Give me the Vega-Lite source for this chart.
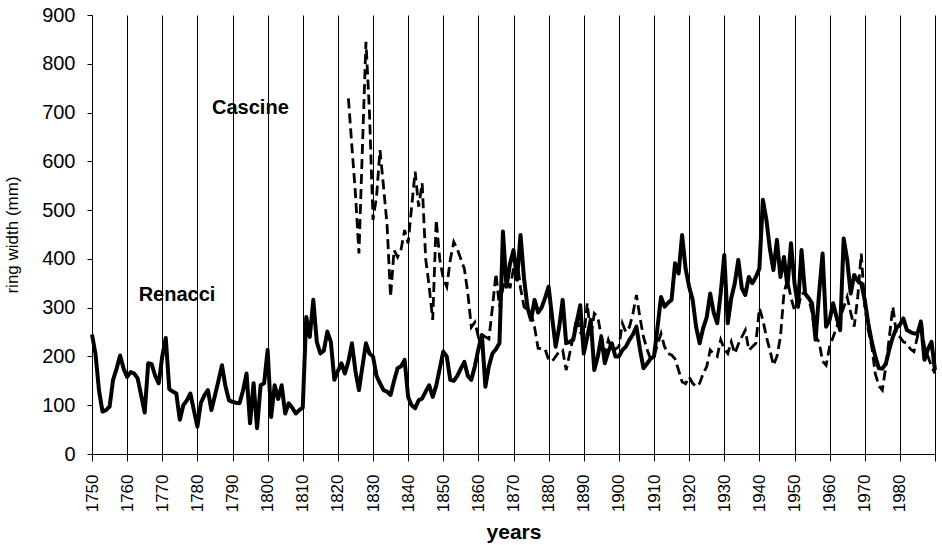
{
  "$schema": "https://vega.github.io/schema/vega-lite/v6.json",
  "width": 843,
  "height": 439,
  "autosize": {"type": "none"},
  "padding": {"left": 92, "top": 15, "right": 7, "bottom": 91},
  "background": "white",
  "config": {"view": {"stroke": null}, "font": "Liberation Sans"},
  "datasets": {
    "renacci": [
      {"year":1750,"width":245},{"year":1751,"width":205},{"year":1752,"width":130},{"year":1753,"width":87},{"year":1754,"width":90},{"year":1755,"width":97},{"year":1756,"width":152},{"year":1757,"width":175},{"year":1758,"width":202},{"year":1759,"width":175},
      {"year":1760,"width":158},{"year":1761,"width":168},{"year":1762,"width":165},{"year":1763,"width":155},{"year":1764,"width":120},{"year":1765,"width":85},{"year":1766,"width":186},{"year":1767,"width":184},{"year":1768,"width":160},{"year":1769,"width":145},
      {"year":1770,"width":200},{"year":1771,"width":238},{"year":1772,"width":133},{"year":1773,"width":128},{"year":1774,"width":124},{"year":1775,"width":70},{"year":1776,"width":100},{"year":1777,"width":110},{"year":1778,"width":124},{"year":1779,"width":90},
      {"year":1780,"width":56},{"year":1781,"width":105},{"year":1782,"width":120},{"year":1783,"width":131},{"year":1784,"width":90},{"year":1785,"width":120},{"year":1786,"width":150},{"year":1787,"width":182},{"year":1788,"width":139},{"year":1789,"width":110},
      {"year":1790,"width":107},{"year":1791,"width":105},{"year":1792,"width":104},{"year":1793,"width":130},{"year":1794,"width":165},{"year":1795,"width":63},{"year":1796,"width":145},{"year":1797,"width":53},{"year":1798,"width":141},{"year":1799,"width":145},
      {"year":1800,"width":213},{"year":1801,"width":76},{"year":1802,"width":141},{"year":1803,"width":113},{"year":1804,"width":141},{"year":1805,"width":83},{"year":1806,"width":104},{"year":1807,"width":95},{"year":1808,"width":83},{"year":1809,"width":90},
      {"year":1810,"width":95},{"year":1811,"width":281},{"year":1812,"width":240},{"year":1813,"width":316},{"year":1814,"width":230},{"year":1815,"width":206},{"year":1816,"width":212},{"year":1817,"width":251},{"year":1818,"width":230},{"year":1819,"width":152},
      {"year":1820,"width":170},{"year":1821,"width":186},{"year":1822,"width":165},{"year":1823,"width":190},{"year":1824,"width":227},{"year":1825,"width":170},{"year":1826,"width":131},{"year":1827,"width":180},{"year":1828,"width":227},{"year":1829,"width":206},
      {"year":1830,"width":200},{"year":1831,"width":160},{"year":1832,"width":145},{"year":1833,"width":131},{"year":1834,"width":128},{"year":1835,"width":121},{"year":1836,"width":150},{"year":1837,"width":176},{"year":1838,"width":180},{"year":1839,"width":193},
      {"year":1840,"width":117},{"year":1841,"width":100},{"year":1842,"width":94},{"year":1843,"width":110},{"year":1844,"width":114},{"year":1845,"width":128},{"year":1846,"width":141},{"year":1847,"width":117},{"year":1848,"width":140},{"year":1849,"width":175},
      {"year":1850,"width":210},{"year":1851,"width":200},{"year":1852,"width":152},{"year":1853,"width":150},{"year":1854,"width":160},{"year":1855,"width":175},{"year":1856,"width":189},{"year":1857,"width":160},{"year":1858,"width":152},{"year":1859,"width":180},
      {"year":1860,"width":215},{"year":1861,"width":244},{"year":1862,"width":138},{"year":1863,"width":180},{"year":1864,"width":206},{"year":1865,"width":215},{"year":1866,"width":227},{"year":1867,"width":456},{"year":1868,"width":343},{"year":1869,"width":390},
      {"year":1870,"width":418},{"year":1871,"width":357},{"year":1872,"width":449},{"year":1873,"width":360},{"year":1874,"width":300},{"year":1875,"width":275},{"year":1876,"width":316},{"year":1877,"width":290},{"year":1878,"width":300},{"year":1879,"width":320},
      {"year":1880,"width":343},{"year":1881,"width":280},{"year":1882,"width":220},{"year":1883,"width":260},{"year":1884,"width":316},{"year":1885,"width":227},{"year":1886,"width":230},{"year":1887,"width":234},{"year":1888,"width":270},{"year":1889,"width":305},
      {"year":1890,"width":206},{"year":1891,"width":240},{"year":1892,"width":275},{"year":1893,"width":172},{"year":1894,"width":200},{"year":1895,"width":240},{"year":1896,"width":186},{"year":1897,"width":210},{"year":1898,"width":227},{"year":1899,"width":200},
      {"year":1900,"width":200},{"year":1901,"width":213},{"year":1902,"width":220},{"year":1903,"width":234},{"year":1904,"width":245},{"year":1905,"width":261},{"year":1906,"width":215},{"year":1907,"width":176},{"year":1908,"width":185},{"year":1909,"width":195},
      {"year":1910,"width":200},{"year":1911,"width":260},{"year":1912,"width":322},{"year":1913,"width":302},{"year":1914,"width":310},{"year":1915,"width":316},{"year":1916,"width":391},{"year":1917,"width":370},{"year":1918,"width":449},{"year":1919,"width":380},
      {"year":1920,"width":343},{"year":1921,"width":316},{"year":1922,"width":260},{"year":1923,"width":227},{"year":1924,"width":258},{"year":1925,"width":280},{"year":1926,"width":329},{"year":1927,"width":290},{"year":1928,"width":268},{"year":1929,"width":330},
      {"year":1930,"width":408},{"year":1931,"width":268},{"year":1932,"width":320},{"year":1933,"width":350},{"year":1934,"width":398},{"year":1935,"width":340},{"year":1936,"width":326},{"year":1937,"width":363},{"year":1938,"width":350},{"year":1939,"width":363},
      {"year":1940,"width":380},{"year":1941,"width":521},{"year":1942,"width":480},{"year":1943,"width":420},{"year":1944,"width":377},{"year":1945,"width":439},{"year":1946,"width":363},{"year":1947,"width":404},{"year":1948,"width":343},{"year":1949,"width":432},
      {"year":1950,"width":350},{"year":1951,"width":302},{"year":1952,"width":418},{"year":1953,"width":329},{"year":1954,"width":320},{"year":1955,"width":309},{"year":1956,"width":234},{"year":1957,"width":330},{"year":1958,"width":411},{"year":1959,"width":261},
      {"year":1960,"width":275},{"year":1961,"width":309},{"year":1962,"width":280},{"year":1963,"width":254},{"year":1964,"width":442},{"year":1965,"width":398},{"year":1966,"width":329},{"year":1967,"width":367},{"year":1968,"width":355},{"year":1969,"width":350},
      {"year":1970,"width":316},{"year":1971,"width":268},{"year":1972,"width":230},{"year":1973,"width":200},{"year":1974,"width":176},{"year":1975,"width":175},{"year":1976,"width":185},{"year":1977,"width":215},{"year":1978,"width":240},{"year":1979,"width":258},
      {"year":1980,"width":265},{"year":1981,"width":278},{"year":1982,"width":254},{"year":1983,"width":250},{"year":1984,"width":247},{"year":1985,"width":247},{"year":1986,"width":271},{"year":1987,"width":193},{"year":1988,"width":215},{"year":1989,"width":230},
      {"year":1990,"width":172}
    ],
    "cascine": [
      {"year":1823,"width":729},{"year":1824,"width":630},{"year":1825,"width":534},{"year":1826,"width":411},{"year":1827,"width":630},{"year":1828,"width":845},{"year":1829,"width":700},
      {"year":1830,"width":480},{"year":1831,"width":527},{"year":1832,"width":623},{"year":1833,"width":548},{"year":1834,"width":470},{"year":1835,"width":322},{"year":1836,"width":418},{"year":1837,"width":404},{"year":1838,"width":420},{"year":1839,"width":459},
      {"year":1840,"width":432},{"year":1841,"width":507},{"year":1842,"width":579},{"year":1843,"width":507},{"year":1844,"width":555},{"year":1845,"width":400},{"year":1846,"width":343},{"year":1847,"width":275},{"year":1848,"width":480},{"year":1849,"width":400},
      {"year":1850,"width":360},{"year":1851,"width":343},{"year":1852,"width":398},{"year":1853,"width":435},{"year":1854,"width":420},{"year":1855,"width":400},{"year":1856,"width":380},{"year":1857,"width":330},{"year":1858,"width":260},{"year":1859,"width":270},
      {"year":1860,"width":240},{"year":1861,"width":245},{"year":1862,"width":240},{"year":1863,"width":236},{"year":1864,"width":300},{"year":1865,"width":370},{"year":1866,"width":302},{"year":1867,"width":340},{"year":1868,"width":370},{"year":1869,"width":340},
      {"year":1870,"width":380},{"year":1871,"width":398},{"year":1872,"width":340},{"year":1873,"width":302},{"year":1874,"width":295},{"year":1875,"width":289},{"year":1876,"width":260},{"year":1877,"width":217},{"year":1878,"width":216},{"year":1879,"width":215},
      {"year":1880,"width":193},{"year":1881,"width":190},{"year":1882,"width":200},{"year":1883,"width":210},{"year":1884,"width":213},{"year":1885,"width":172},{"year":1886,"width":206},{"year":1887,"width":240},{"year":1888,"width":281},{"year":1889,"width":250},
      {"year":1890,"width":240},{"year":1891,"width":309},{"year":1892,"width":240},{"year":1893,"width":288},{"year":1894,"width":281},{"year":1895,"width":240},{"year":1896,"width":206},{"year":1897,"width":234},{"year":1898,"width":213},{"year":1899,"width":215},
      {"year":1900,"width":220},{"year":1901,"width":268},{"year":1902,"width":250},{"year":1903,"width":260},{"year":1904,"width":288},{"year":1905,"width":326},{"year":1906,"width":280},{"year":1907,"width":240},{"year":1908,"width":215},{"year":1909,"width":195},
      {"year":1910,"width":200},{"year":1911,"width":225},{"year":1912,"width":247},{"year":1913,"width":220},{"year":1914,"width":206},{"year":1915,"width":203},{"year":1916,"width":195},{"year":1917,"width":172},{"year":1918,"width":148},{"year":1919,"width":144},
      {"year":1920,"width":158},{"year":1921,"width":145},{"year":1922,"width":138},{"year":1923,"width":145},{"year":1924,"width":165},{"year":1925,"width":179},{"year":1926,"width":213},{"year":1927,"width":205},{"year":1928,"width":200},{"year":1929,"width":234},
      {"year":1930,"width":215},{"year":1931,"width":206},{"year":1932,"width":230},{"year":1933,"width":206},{"year":1934,"width":225},{"year":1935,"width":240},{"year":1936,"width":254},{"year":1937,"width":213},{"year":1938,"width":220},{"year":1939,"width":227},
      {"year":1940,"width":299},{"year":1941,"width":275},{"year":1942,"width":240},{"year":1943,"width":213},{"year":1944,"width":182},{"year":1945,"width":200},{"year":1946,"width":240},{"year":1947,"width":330},{"year":1948,"width":357},{"year":1949,"width":320},
      {"year":1950,"width":295},{"year":1951,"width":300},{"year":1952,"width":329},{"year":1953,"width":330},{"year":1954,"width":320},{"year":1955,"width":290},{"year":1956,"width":240},{"year":1957,"width":230},{"year":1958,"width":190},{"year":1959,"width":182},
      {"year":1960,"width":220},{"year":1961,"width":240},{"year":1962,"width":260},{"year":1963,"width":280},{"year":1964,"width":300},{"year":1965,"width":322},{"year":1966,"width":290},{"year":1967,"width":261},{"year":1968,"width":322},{"year":1969,"width":411},
      {"year":1970,"width":302},{"year":1971,"width":254},{"year":1972,"width":220},{"year":1973,"width":165},{"year":1974,"width":140},{"year":1975,"width":131},{"year":1976,"width":179},{"year":1977,"width":240},{"year":1978,"width":302},{"year":1979,"width":247},
      {"year":1980,"width":240},{"year":1981,"width":230},{"year":1982,"width":227},{"year":1983,"width":215},{"year":1984,"width":210},{"year":1985,"width":240},{"year":1986,"width":275},{"year":1987,"width":220},{"year":1988,"width":200},{"year":1989,"width":180},
      {"year":1990,"width":165}
    ],
    "labels": [
      {"year":1795.1,"width":710,"name":"Cascine"},
      {"year":1774.2,"width":325,"name":"Renacci"}
    ]
  },
  "encoding": {
    "x": {
      "field": "year", "type": "quantitative",
      "scale": {"domain": [1750, 1990], "nice": false, "zero": false},
      "axis": {
        "values": [1750,1760,1770,1780,1790,1800,1810,1820,1830,1840,1850,1860,1870,1880,1890,1900,1910,1920,1930,1940,1950,1960,1970,1980,1990],
        "labelExpr": "datum.value > 1985 ? '' : datum.label",
        "labelAngle": -90, "labelAlign": "right", "labelBaseline": "middle",
        "labelFontSize": 17, "labelColor": "black", "labelPadding": 13,
        "labelOverlap": false, "labelSeparation": 0, "labelFlush": false, "labelBound": false,
        "format": "d",
        "tickSize": 7, "tickColor": "black", "domainColor": "black",
        "grid": true, "gridColor": "black", "gridWidth": 1, "gridOpacity": 1,
        "title": "years", "titleFontSize": 21, "titleFontWeight": "bold",
        "titleColor": "black", "titlePadding": 10
      }
    },
    "y": {
      "field": "width", "type": "quantitative",
      "scale": {"domain": [0, 900], "nice": false},
      "axis": {
        "values": [0,100,200,300,400,500,600,700,800,900],
        "labelFontSize": 20, "labelColor": "black", "labelPadding": 12,
        "tickSize": 5, "tickColor": "black", "domainColor": "black",
        "grid": false, "title": "ring width (mm)",
        "titleFontSize": 17, "titleFontWeight": "normal", "titleColor": "black",
        "titlePadding": 20
      }
    }
  },
  "layer": [
    {
      "data": {"name": "cascine"},
      "mark": {"type": "line", "color": "black", "strokeWidth": 2.8, "strokeDash": [10, 5]}
    },
    {
      "data": {"name": "renacci"},
      "mark": {"type": "line", "color": "black", "strokeWidth": 4, "strokeJoin": "round"}
    },
    {
      "data": {"name": "labels"},
      "mark": {"type": "text", "fontSize": 20, "fontWeight": "bold", "color": "black", "align": "center", "baseline": "middle"},
      "encoding": {"text": {"field": "name"}}
    }
  ]
}
